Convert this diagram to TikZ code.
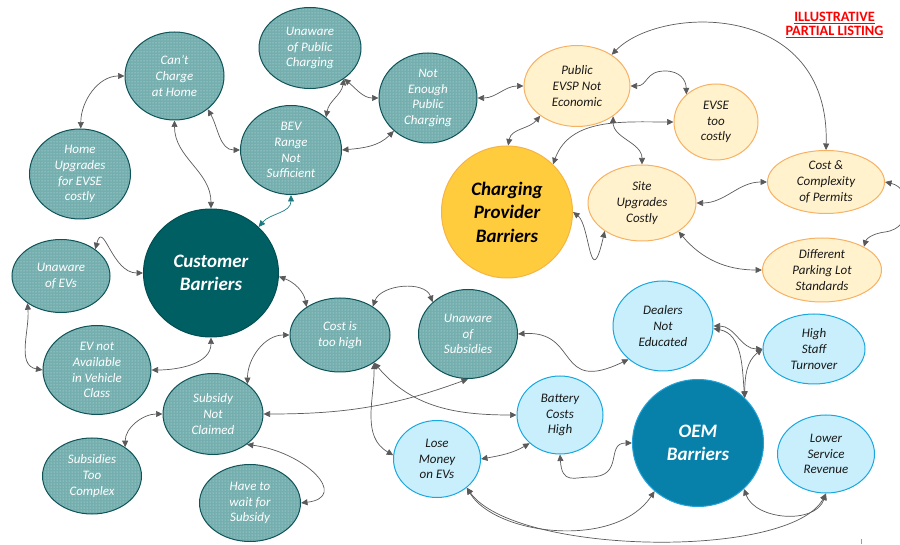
\documentclass[tikz,border=0pt]{standalone}
\usepackage{fontspec}
\setmainfont{Carlito}
\newfontfamily\nodeit{Carlito Italic}
\usetikzlibrary{shapes.geometric,arrows.meta,patterns}
\definecolor{tealbase}{HTML}{74AEAE}
\definecolor{tealdot}{HTML}{D2E8E8}
\definecolor{tealline}{HTML}{0D5358}
\definecolor{custfill}{HTML}{005F63}
\definecolor{custline}{HTML}{004E52}
\definecolor{orfill}{HTML}{FFF2CC}
\definecolor{orline}{HTML}{F7B164}
\definecolor{cpfill}{HTML}{FFCC3E}
\definecolor{cpline}{HTML}{F6B445}
\definecolor{blfill}{HTML}{C8EFFB}
\definecolor{blline}{HTML}{19A7DF}
\definecolor{oemfill}{HTML}{0781AA}
\definecolor{oemline}{HTML}{22A2D6}
\definecolor{arrowgray}{HTML}{5A5A5A}
\definecolor{tealarrow}{HTML}{1A7A80}
\tikzset{
  base/.style={ellipse, inner sep=0pt, align=center, line width=1pt,
    font=\nodeit\fontsize{13}{15.8}\selectfont},
  tnode/.style={base, draw=tealline, pattern=dots, pattern color=tealdot,
    preaction={fill=tealbase}, text=white},
  onode/.style={base, draw=orline, fill=orfill, text=black!90},
  bnode/.style={base, draw=blline, fill=blfill, text=black!90},
  bignode/.style={ellipse, inner sep=0pt, align=center, line width=1pt,
    font=\fontsize{19}{23.5}\selectfont\bfseries\itshape},
  conn/.style={draw=arrowgray, line width=0.7pt, >={Triangle[length=6.5pt,width=6pt]}, <->},
}
\begin{document}
\begin{tikzpicture}[x=1pt,y=1pt]
\useasboundingbox (0,0) rectangle (900,544);
% teal customer nodes
\node[tnode, minimum width=99pt, minimum height=88pt] (cc) at (174.5,468) {Can’t\\Charge\\at Home};
\node[tnode, minimum width=102pt, minimum height=81pt] (upc) at (310,496) {Unaware\\of Public\\Charging};
\node[tnode, minimum width=98pt, minimum height=90pt] (nepc) at (428,446) {Not\\Enough\\Public\\Charging};
\node[tnode, minimum width=101pt, minimum height=89pt] (bev) at (291,394) {BEV\\Range\\Not\\Sufficient};
\node[tnode, minimum width=101pt, minimum height=90pt] (hu) at (80,370) {Home\\Upgrades\\for EVSE\\costly};
\node[bignode, draw=custline, fill=custfill, text=white, minimum width=135pt, minimum height=128pt] (cb) at (211,271) {Customer\\Barriers};
\node[tnode, minimum width=98pt, minimum height=73pt] (uev) at (61,268) {Unaware\\of EVs};
\node[tnode, minimum width=108pt, minimum height=89pt] (evna) at (97,174) {EV not\\Available\\in Vehicle\\Class};
\node[tnode, minimum width=100pt, minimum height=74pt] (cth) at (340,209) {Cost is\\too high};
\node[tnode, minimum width=99pt, minimum height=89pt] (us) at (468,210) {Unaware\\of\\Subsidies};
\node[tnode, minimum width=100pt, minimum height=81pt] (snc) at (213,130) {Subsidy\\Not\\Claimed};
\node[tnode, minimum width=99pt, minimum height=76pt] (stc) at (92,68) {Subsidies\\Too\\Complex};
\node[tnode, minimum width=101pt, minimum height=77pt] (hw) at (250,41) {Have to\\wait for\\Subsidy};
% charging provider nodes
\node[onode, minimum width=106pt, minimum height=81pt] (pev) at (577,458) {Public\\EVSP Not\\Economic};
\node[onode, minimum width=84pt, minimum height=76pt] (evse) at (716,422) {EVSE\\too\\costly};
\node[bignode, draw=cpline, fill=cpfill, text=black, minimum width=131pt, minimum height=132pt] (cpb) at (507,332) {Charging\\Provider\\Barriers};
\node[onode, minimum width=108pt, minimum height=76pt] (suc) at (642,341) {Site\\Upgrades\\Costly};
\node[onode, minimum width=117pt, minimum height=63pt] (ccp) at (826,362) {Cost \&\\Complexity\\of Permits};
\node[onode, minimum width=119pt, minimum height=64pt] (dpl) at (822,274) {Different\\Parking Lot\\Standards};
% OEM nodes
\node[bnode, minimum width=100pt, minimum height=90pt] (dne) at (663,218) {Dealers\\Not\\Educated};
\node[bnode, minimum width=102pt, minimum height=70pt] (hst) at (814,195) {High\\Staff\\Turnover};
\node[bnode, minimum width=86pt, minimum height=78pt] (bch) at (560,129) {Battery\\Costs\\High};
\node[bignode, draw=oemline, fill=oemfill, text=white, minimum width=131pt, minimum height=127pt] (oem) at (698,101) {OEM\\Barriers};
\node[bnode, minimum width=97pt, minimum height=78pt] (lsr) at (826,90) {Lower\\Service\\Revenue};
\node[bnode, minimum width=87pt, minimum height=77pt] (lm) at (437,85) {Lose\\Money\\on EVs};
% title
\node[font=\fontsize{14.3}{14.6}\selectfont\bfseries, text=red, align=center] (title) at (834.5,519) {\underline{ILLUSTRATIVE}\\\underline{PARTIAL LISTING}};
% customer connectors
\draw[conn] (hu.89) to[out=90,in=180] (cc.180);
\draw[conn] (cc.-90) to[out=-90,in=90] (cb.90);
\draw[conn] (cc.-45) to[out=-60,in=180] (bev.180);
\draw[conn] (upc.-42) to[out=-40,in=180] (nepc.180);
\draw[conn] (upc.-42) to[out=-100,in=80] (bev.43);
\draw[conn] (bev.0) to[out=5,in=-135] (nepc.-136);
\draw[conn, draw=tealarrow] (cb.44) to[out=50,in=-90] (bev.-90);
\draw[conn] (nepc.0) to[out=0,in=180] (pev.180);
\draw[conn] (uev.38) to[out=75,in=180,looseness=1.5] (cb.180);
\draw[conn] (uev.-141) to[out=-85,in=170] (evna.180);
\draw[conn] (evna.0) to[out=0,in=-90] (cb.-90);
\draw[conn] (cb.-3) to[out=-20,in=100] (cth.140);
\draw[conn] (snc.41) to[out=90,in=180] (cth.180);
\draw[conn] (cth.41) to[out=70,in=110] (us.138);
\draw[conn] (cth.-39) to[out=-90,in=150] (lm.175);
\draw[conn] (cth.-39) to[out=-50,in=180] (bch.180);
\draw[conn] (snc.0) to[out=0,in=-160] (us.-90);
\draw[conn] (stc.41) to[out=90,in=180] (snc.180);
\draw[conn] (snc.-42) .. controls (305,92) and (350,47) .. (hw.0);
% OEM connectors
\draw[conn] (us.0) .. controls (580,214) and (555,149) .. (dne.-136);
\draw[conn] (lm.0) to[out=10,in=-150] (bch.-137);
\draw[conn] (bch.-90) .. controls (562,59) and (575,67) .. (590,67) .. controls (625,67) and (605,101) .. (oem.180);
\draw[conn] (lm.-44) .. controls (495,9) and (615,-6) .. (oem.-132);
\draw[conn] (lm.-44) .. controls (515,-11) and (790,-16) .. (lsr.-90);
\draw[conn] (oem.-45) .. controls (755,24) and (815,19) .. (lsr.-90);
\draw[conn] (dne.0) to[out=0,in=180] (hst.180);
\draw[conn] (dne.-3) to[out=-10,in=95] (oem.44);
\draw[conn] (hst.180) to[out=217,in=90] (oem.44);
% charging provider connectors
\draw[conn] (pev.42) .. controls (660,539) and (830,544) .. (ccp.90);
\draw[conn] (pev.0) .. controls (648,458) and (645,473) .. (665,473) .. controls (680,473) and (686,464) .. (evse.137);
\draw[conn] (pev.-40) to[out=-90,in=90] (suc.90);
\draw[conn] (cpb.89) to[out=80,in=-130] (pev.-141);
\draw[conn] (cpb.46) to[out=70,in=180] (evse.180);
\draw[conn] (cpb.0) .. controls (590,319) and (590,249) .. (suc.-143);
\draw[conn] (suc.0) to[out=0,in=180] (ccp.180);
\draw[conn] (suc.-38) to[out=-50,in=180] (dpl.180);
\draw[conn] (ccp.0) .. controls (912,356) and (915,316) .. (885,312) .. controls (870,310) and (866,304) .. (dpl.29);
% small tick at the bottom
\coordinate (tickA) at (861,5);
\coordinate (tickB) at (861,0);
\draw[arrowgray!60, line width=0.8pt] (tickA) -- (tickB);
\end{tikzpicture}
\end{document}
